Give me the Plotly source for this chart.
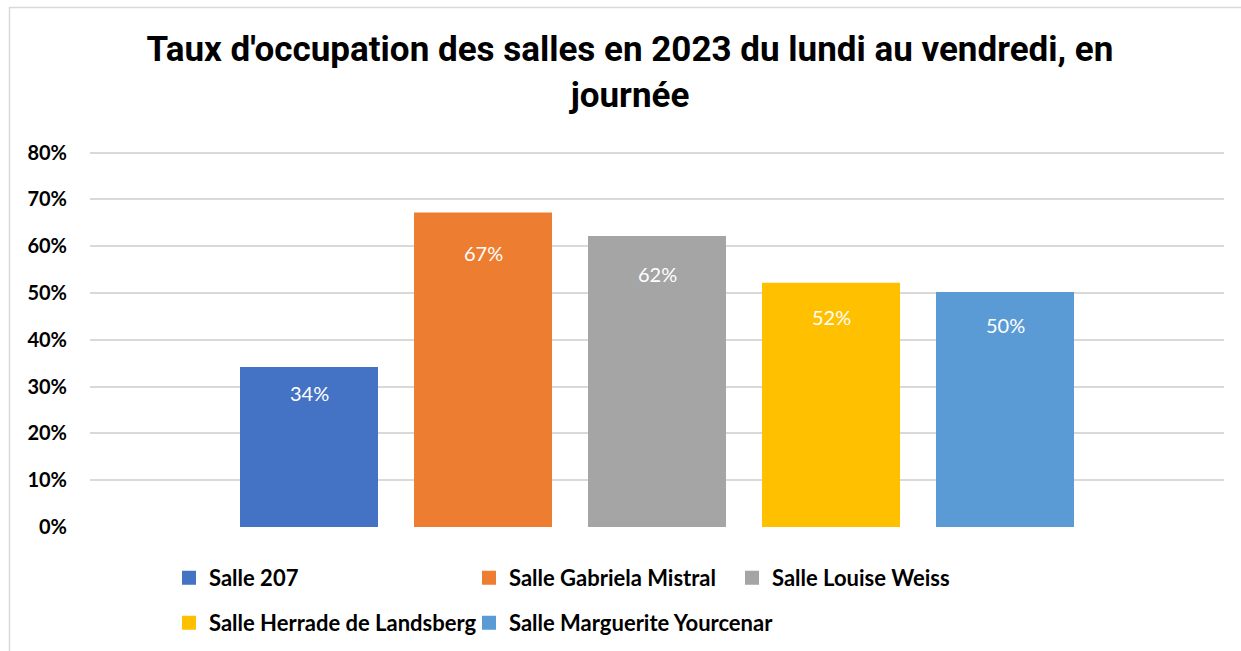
import plotly.graph_objects as go

salles = ["Salle 207", "Salle Gabriela Mistral", "Salle Louise Weiss",
          "Salle Herrade de Landsberg", "Salle Marguerite Yourcenar"]
taux = [0.34, 0.67, 0.62, 0.52, 0.50]
couleurs = ["#4472C4", "#ED7D31", "#A5A5A5", "#FFC000", "#5B9BD5"]
y_ticks = [0, 0.1, 0.2, 0.3, 0.4, 0.5, 0.6, 0.7, 0.8]
y_tick_labels = ["0%", "10%", "20%", "30%", "40%", "50%", "60%", "70%", "80%"]
titre = "Taux d'occupation des salles en 2023 du lundi au vendredi, en<br>journée"

W, H = 1241, 651
FONT = "Lato, 'Open Sans', sans-serif"
TFONT = "Roboto, 'Liberation Sans', sans-serif"

# legend text start positions (px) for the 5 legend entries
leg_pos = [(210, 578), (510, 578), (773, 578), (210, 623), (510, 623)]

L, R, T, B = 90, 1224, 148, 527
YMAX = 0.81

fig = go.Figure()
for i, (s, v, c) in enumerate(zip(salles, taux, couleurs)):
    lg = "legend" if i == 0 else f"legend{i+1}"
    fig.add_trace(go.Bar(x=[s], y=[v], name=s, marker_color=c,
                         marker_line=dict(color=c, width=2),
                         legend=lg, hoverinfo="skip"))
    fig.add_annotation(x=s, y=v * 0.91, text=f"{round(v*100)}%", showarrow=False,
                       yshift=-11, yanchor="middle",
                       font=dict(family=FONT, size=20, color="white"))

legends = {}
for i, (px, py) in enumerate(leg_pos):
    key = "legend" if i == 0 else f"legend{i+1}"
    legends[key] = dict(xref="paper", yref="paper",
                        x=(px - 41 - L) / (R - L), y=(B - py) / (B - T),
                        xanchor="left", yanchor="middle",
                        bgcolor="rgba(0,0,0,0)", borderwidth=0,
                        font=dict(family=FONT, size=22, color="black",
                                  weight="bold"),
                        itemclick=False, itemdoubleclick=False)

n = len(salles)
step = 174.0
span = (R - L) / step
fig.update_layout(
    width=W, height=H,
    margin=dict(l=L, r=W - R, t=T, b=H - B, pad=0, autoexpand=False),
    paper_bgcolor="white", plot_bgcolor="white",
    barmode="overlay", bargap=1 - 136 / step,
    showlegend=True,
    title=dict(text=titre, x=630 / W, xref="container", xanchor="center",
               y=1 - 61 / H, yref="container", yanchor="top",
               font=dict(family=TFONT, size=35, color="black", weight="bold")),
    xaxis=dict(type="category", range=[(n - 1) / 2 - span / 2, (n - 1) / 2 + span / 2],
               showticklabels=False, showgrid=False, zeroline=False,
               showline=False, ticks=""),
    yaxis=dict(range=[0, YMAX], tickvals=y_ticks, ticktext=y_tick_labels,
               showgrid=True, gridcolor="#d9d9d9", gridwidth=2,
               zeroline=False, showline=False, ticks="",
               ticklabelstandoff=22,
               tickfont=dict(family=FONT, size=20, color="black", weight="bold")),
    shapes=[dict(type="rect", xref="paper", yref="paper",
                 x0=(9.5 - L) / (R - L), x1=1.2,
                 y0=-0.5, y1=(B - 7.5) / (B - T),
                 line=dict(color="#d9d9d9", width=1.5), layer="below")],
    **legends,
)

fig.write_html("out.html", config={"displayModeBar": False},
               post_script="document.body.style.margin='0';document.body.style.overflow='hidden';")
